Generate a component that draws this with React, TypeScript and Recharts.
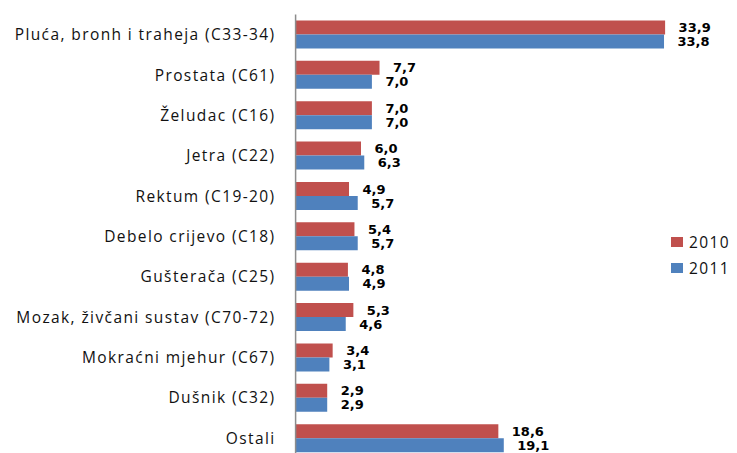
import React from "react";
import { BarChart, Bar, XAxis, YAxis, LabelList, Legend } from "recharts";

const categories = [
  "Pluća, bronh i traheja (C33-34)",
  "Prostata (C61)",
  "Želudac (C16)",
  "Jetra (C22)",
  "Rektum (C19-20)",
  "Debelo crijevo (C18)",
  "Gušterača (C25)",
  "Mozak, živčani sustav (C70-72)",
  "Mokraćni mjehur (C67)",
  "Dušnik (C32)",
  "Ostali",
];
const values2010 = [33.9, 7.7, 7.0, 6.0, 4.9, 5.4, 4.8, 5.3, 3.4, 2.9, 18.6];
const values2011 = [33.8, 7.0, 7.0, 6.3, 5.7, 5.7, 4.9, 4.6, 3.1, 2.9, 19.1];
const seriesNames = ["2010", "2011"];
const colors = ["#C0504D", "#4F81BD"];

const data = categories.map((name, i) => ({
  name,
  y2010: values2010[i],
  y2011: values2011[i],
}));

const fmt = (v: any) => Number(v).toFixed(1).replace(".", ",");

const labelStyle = {
  fontFamily: "'DejaVu Sans', Verdana, sans-serif",
  fontWeight: 700,
  fontSize: 13,
  fill: "#000",
};

const LegendContent = () => (
  <div style={{ fontFamily: "'Open Sans', sans-serif", fontSize: 15.5, color: "#111" }}>
    {seriesNames.map((s, i) => (
      <div key={s} style={{ display: "flex", alignItems: "center", height: 26 }}>
        <span
          style={{
            display: "inline-block",
            width: 12,
            height: 10,
            background: colors[i],
            marginRight: 6,
          }}
        />
        <span style={{ letterSpacing: 1.4 }}>{s}</span>
      </div>
    ))}
  </div>
);

export default function App() {
  return (
    <div
      style={{
        position: "absolute",
        left: 0,
        top: 0,
        width: 737,
        height: 453,
        overflow: "hidden",
        background: "#fff",
      }}
    >
      <BarChart
        width={737}
        height={460}
        data={data}
        layout="vertical"
        margin={{ top: 14.5, right: 5.4, bottom: 1.5, left: 0 }}
        barSize={14}
        barGap={0}
      >
        <XAxis type="number" domain={[0, 40]} hide />
        <YAxis
          type="category"
          dataKey="name"
          width={295.6}
          axisLine={{ stroke: "#8c8c8c", strokeWidth: 1.5 }}
          tickLine={false}
          tickSize={0}
          tickMargin={20}
          interval={0}
          tick={{
            fontFamily: "'Open Sans', sans-serif",
            fontSize: 15.5,
            fill: "#111",
            letterSpacing: 1.4,
          }}
        />
        <Legend
          layout="horizontal"
          verticalAlign="middle"
          align="center"
          wrapperStyle={{ left: 671, top: 229, width: 66 }}
          content={LegendContent}
        />
        <Bar dataKey="y2010" name="2010" fill={colors[0]} isAnimationActive={false}>
          <LabelList dataKey="y2010" position="right" offset={13.5} formatter={fmt} style={labelStyle} />
        </Bar>
        <Bar dataKey="y2011" name="2011" fill={colors[1]} isAnimationActive={false}>
          <LabelList dataKey="y2011" position="right" offset={13.5} formatter={fmt} style={labelStyle} />
        </Bar>
      </BarChart>
    </div>
  );
}
